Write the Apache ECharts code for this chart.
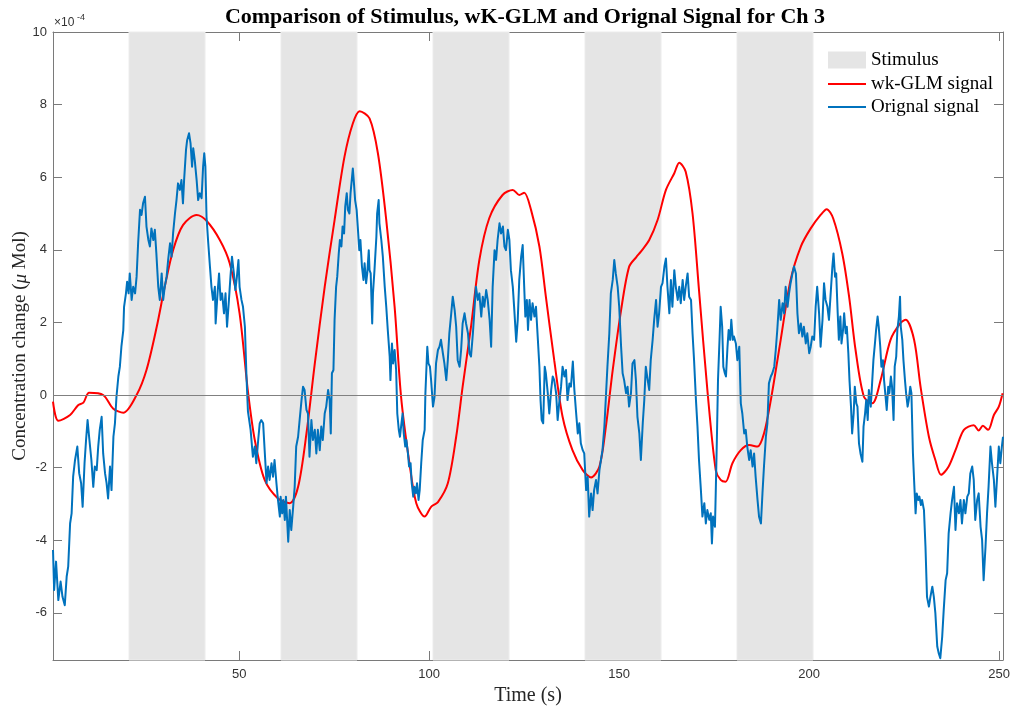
<!DOCTYPE html>
<html>
<head>
<meta charset="utf-8">
<title>Comparison of Stimulus, wK-GLM and Orignal Signal for Ch 3</title>
<script src="https://cdn.jsdelivr.net/npm/echarts@6/dist/echarts.min.js"></script>
<style>
  html, body { margin: 0; padding: 0; background: #ffffff; }
  #chart { width: 1014px; height: 709px; }
</style>
</head>
<body>
<div id="chart"></div>
<script>
// Concentration values are stored in units of 1e-4 µMol (see the ×10^-4 axis note).

// Stimulus blocks (s)
const stimOn  = [21, 61, 101, 141, 181];
const stimOff = [41, 81, 121, 161, 201];

// Axis ticks
const xTicks = [50, 100, 150, 200, 250];
const yTicks = [-6, -4, -2, 0, 2, 4, 6, 8, 10];

// wk-GLM model signal
const glmT = [1, 2.4, 5.5, 7.6, 9, 10.5, 14.2, 16.8, 19.5, 23, 25.6, 28.3, 30.4, 32.6, 35.2, 38.8, 41.4, 44.9, 47.5, 50.1,
  52.3, 54.1, 56.7, 60.2, 63.3, 65.5, 67.7, 69.9, 72.5, 75.1, 77.7, 79.9, 81.7, 84.3, 86.5, 88.7, 90.9, 92.6, 94.8, 96.6,
  98.8, 100.5, 102.3, 104.9, 107.1, 108.8, 111, 113.2, 115.8, 119.3, 122, 123.7, 125, 126.8, 129, 130.7, 132.9, 135.1, 137.7, 140.4,
  142.6, 144.8, 146.5, 148.3, 150.5, 152.6, 154.5, 155.7, 157.9, 160.1, 162.3, 164.5, 165.8, 167.5, 169.3, 171, 173.2, 175.4, 176.7, 178,
  179.8, 182, 184.2, 186.4, 188.1, 189.9, 192.5, 195.1, 197.8, 200.4, 203, 204.6, 206.3, 208.7, 210.5, 212.2, 214.4, 216.6, 218.8, 221.4,
  224, 225.4, 227.6, 229.3, 231.5, 233.2, 234.7, 236.7, 238.5, 240.7, 243.3, 244.6, 245.7, 247.1, 248.6, 249.9, 250.9];
const glmV = [-0.18, -0.71, -0.55, -0.28, -0.21, 0.06, 0.0, -0.37, -0.49, 0, 0.69, 1.88, 2.98, 3.99, 4.68, 4.96, 4.80, 4.27, 3.63, 2.25,
  0.1, -1.24, -2.34, -2.85, -2.98, -2.53, -1.06, 0.87, 2.98, 4.82, 6.56, 7.48, 7.82, 7.62, 6.66, 4.82, 2.43, -0.05, -1.88, -2.98,
  -3.35, -3.08, -2.95, -2.43, -1.15, 0.23, 1.88, 3.72, 4.87, 5.51, 5.65, 5.51, 5.57, 5.10, 4.09, 2.71, 0.96, -0.60, -1.52, -2.07,
  -2.27, -1.97, -0.87, 0.69, 2.34, 3.53, 3.8, 3.95, 4.27, 4.82, 5.65, 6.11, 6.40, 6.15, 5.00, 2.89, 0.14, -2.07, -2.34, -2.39,
  -1.88, -1.52, -1.38, -1.42, -1.06, -0.14, 1.52, 3.17, 4.09, 4.59, 4.96, 5.12, 4.87, 3.90, 2.71, 1.24, -0.05, -0.23, 0.41, 1.52,
  1.98, 2.07, 1.52, 0.23, -1.15, -1.79, -2.20, -1.97, -1.52, -0.96, -0.83, -0.98, -0.85, -0.96, -0.55, -0.32, 0.05];

// Original measured signal
const origT = [1.0, 1.3, 1.8, 2.4, 3.0, 3.5, 4.1, 4.6, 5.0, 5.5, 5.9, 6.3, 6.8, 7.4, 7.9, 8.4, 8.8, 9.3, 9.7, 10.1,
  10.5, 11.1, 11.6, 12.0, 12.5, 12.9, 13.3, 13.8, 14.2, 14.7, 15.1, 15.5, 16.0, 16.4, 16.9, 17.3, 17.7, 18.2, 18.6, 19.0,
  19.5, 19.7, 20.2, 20.5, 20.9, 21.2, 21.7, 22.1, 22.6, 23.0, 23.4, 23.9, 24.3, 24.7, 25.2, 25.6, 26.1, 26.5, 26.9, 27.4,
  27.8, 28.2, 28.7, 29.1, 29.6, 30.0, 30.4, 30.9, 31.3, 31.8, 32.2, 32.6, 33.1, 33.5, 33.9, 34.4, 34.8, 35.2, 35.5, 36.0,
  36.3, 36.8, 37.2, 37.6, 37.9, 38.3, 38.8, 39.2, 39.6, 40.1, 40.5, 40.8, 41.1, 41.4, 41.8, 42.3, 42.7, 43.1, 43.6, 43.8,
  44.3, 44.7, 45.1, 45.5, 46.0, 46.4, 46.8, 47.3, 47.7, 48.1, 48.6, 49.0, 49.4, 49.8, 50.1, 50.6, 51.0, 51.5, 51.9, 52.3,
  53.0, 53.6, 54.1, 54.5, 55.0, 55.4, 55.8, 56.3, 56.7, 57.2, 57.6, 58.0, 58.5, 58.9, 59.3, 59.8, 60.2, 60.7, 60.9, 61.3,
  61.6, 62.0, 62.3, 62.9, 63.3, 63.7, 64.2, 64.6, 65.0, 65.5, 65.9, 66.4, 66.8, 67.2, 67.7, 68.1, 68.5, 69.0, 69.4, 69.9,
  70.3, 70.7, 71.2, 71.6, 72.0, 72.5, 72.9, 73.4, 73.8, 74.1, 74.4, 74.8, 75.1, 75.5, 75.8, 76.2, 76.5, 76.9, 77.2, 77.6,
  77.9, 78.3, 78.6, 79.0, 79.3, 79.7, 79.9, 80.2, 80.5, 80.9, 81.2, 81.6, 81.9, 82.3, 82.7, 83.0, 83.4, 83.7, 84.1, 84.3,
  84.6, 85.0, 85.2, 85.6, 86.1, 86.3, 86.7, 86.9, 87.4, 87.8, 88.3, 88.7, 89.1, 89.6, 89.8, 90.2, 90.5, 90.9, 91.3, 91.6,
  92.0, 92.3, 92.6, 93.0, 93.3, 93.7, 94.0, 94.4, 94.7, 95.1, 95.4, 95.8, 96.1, 96.5, 96.8, 97.2, 97.5, 97.9, 98.3, 98.8,
  99.0, 99.5, 99.8, 100.2, 100.5, 101.0, 101.4, 101.8, 102.3, 102.7, 103.1, 103.6, 104.0, 104.5, 104.9, 105.3, 105.8, 106.2, 106.7, 107.1,
  107.5, 108.0, 108.4, 108.8, 109.3, 109.7, 110.2, 110.6, 111.0, 111.5, 111.9, 112.3, 112.8, 113.2, 113.7, 114.1, 114.5, 115.0, 115.4, 115.9,
  116.3, 116.7, 117.2, 117.6, 118.0, 118.5, 118.9, 119.4, 119.8, 120.2, 120.7, 121.1, 121.5, 122.0, 122.4, 122.9, 123.3, 123.7, 124.2, 124.6,
  125.0, 125.3, 125.7, 126.0, 126.4, 126.8, 127.2, 127.7, 128.1, 128.6, 129.0, 129.3, 129.6, 130.0, 130.4, 130.7, 131.2, 131.6, 132.1, 132.5,
  132.9, 133.4, 133.8, 134.2, 134.7, 135.1, 135.6, 136.0, 136.4, 136.9, 137.3, 137.8, 138.2, 138.6, 139.1, 139.5, 139.9, 140.4, 140.8, 141.3,
  141.7, 142.1, 142.6, 143.0, 143.4, 143.9, 144.3, 144.8, 145.2, 145.6, 146.1, 146.5, 146.9, 147.4, 147.8, 148.3, 148.7, 149.1, 149.6, 150.0,
  150.5, 150.9, 151.3, 151.8, 152.2, 152.6, 153.1, 153.5, 154.0, 154.4, 154.8, 155.3, 155.7, 156.2, 156.6, 157.0, 157.5, 157.9, 158.3, 158.8,
  159.2, 159.7, 160.1, 160.5, 161.0, 161.4, 161.9, 162.3, 162.7, 163.2, 163.6, 164.0, 164.5, 164.9, 165.4, 165.8, 166.2, 166.7, 167.1, 167.5,
  168.0, 168.4, 168.9, 169.3, 169.7, 170.2, 170.6, 171.0, 171.5, 171.9, 172.4, 172.8, 173.2, 173.7, 174.1, 174.4, 174.7, 175.2, 175.4, 175.7,
  176.0, 176.4, 176.7, 177.1, 177.4, 177.8, 178.1, 178.5, 178.8, 179.2, 179.5, 179.9, 180.2, 180.7, 181.1, 181.6, 182.0, 182.4, 182.9, 183.3,
  183.7, 184.2, 184.6, 185.1, 185.5, 185.9, 186.4, 186.8, 187.3, 187.7, 188.1, 188.6, 189.0, 189.4, 189.9, 190.3, 190.8, 191.2, 191.6, 192.1,
  192.5, 193.0, 193.4, 193.8, 194.3, 194.7, 195.1, 195.6, 196.0, 196.5, 196.9, 197.3, 197.8, 198.2, 198.6, 199.1, 199.5, 200.0, 200.4, 200.8,
  201.3, 201.7, 202.1, 202.6, 203.0, 203.5, 203.9, 204.3, 204.8, 205.2, 205.6, 206.1, 206.4, 206.8, 207.1, 207.5, 207.8, 208.2, 208.5, 208.9,
  209.2, 209.6, 209.9, 210.3, 210.6, 211.0, 211.3, 211.7, 212.0, 212.4, 212.7, 213.1, 213.5, 214.0, 214.3, 214.7, 215.0, 215.4, 215.7, 216.2,
  216.6, 216.9, 217.3, 217.6, 218.0, 218.3, 218.7, 219.0, 219.4, 219.7, 220.1, 220.4, 220.8, 221.1, 221.5, 221.8, 222.2, 222.5, 222.9, 223.2,
  223.6, 223.9, 224.1, 224.5, 224.8, 225.2, 225.5, 225.9, 226.2, 226.6, 226.9, 227.3, 227.6, 228.0, 228.3, 228.7, 229.0, 229.4, 229.7, 230.2,
  230.6, 231.0, 231.5, 231.9, 232.4, 232.8, 233.2, 233.7, 234.1, 234.5, 235.0, 235.4, 235.9, 236.3, 236.7, 237.2, 237.6, 238.1, 238.5, 238.9,
  239.4, 239.8, 240.2, 240.7, 241.1, 241.6, 242.0, 242.4, 242.9, 243.3, 243.7, 244.2, 244.6, 245.1, 245.5, 245.9, 246.4, 246.8, 247.2, 247.7,
  248.1, 248.6, 249.0, 249.4, 249.9, 250.3, 250.7, 251.0];
const origV = [-4.27, -5.37, -4.59, -5.65, -5.14, -5.56, -5.79, -5.0, -4.73, -3.54, -3.26, -2.25, -1.79, -1.42, -2.16, -2.43, -3.08, -1.88, -1.24, -0.69,
  -1.15, -1.79, -2.53, -1.97, -2.07, -1.42, -0.96, -0.60, -1.61, -2.16, -2.43, -2.85, -1.97, -2.62, -1.15, -0.78, -0.05, 0.51, 0.78, 1.33,
  1.79, 2.43, 2.80, 3.12, 2.80, 3.35, 2.62, 2.98, 2.80, 3.26, 4.18, 5.10, 4.96, 5.28, 5.46, 4.64, 4.27, 4.09, 4.59, 4.27,
  4.55, 3.90, 2.98, 2.62, 3.35, 2.62, 2.98, 3.26, 3.72, 4.18, 3.81, 4.45, 5.00, 5.37, 5.83, 5.65, 5.92, 5.28, 5.92, 6.75,
  7.02, 7.21, 6.93, 6.29, 6.80, 6.47, 5.92, 5.37, 5.56, 5.42, 6.29, 6.66, 6.29, 4.91, 4.27, 3.54, 2.98, 2.62, 2.98, 1.97,
  2.80, 3.35, 2.62, 2.80, 2.25, 2.80, 1.88, 2.62, 3.26, 3.81, 3.35, 2.89, 3.26, 3.72, 2.98, 2.62, 2.43, 1.88, 0.55, -0.45,
  -0.96, -1.70, -1.42, -1.88, -1.24, -0.78, -0.69, -0.78, -1.52, -2.43, -1.97, -2.34, -1.88, -2.25, -1.79, -2.43, -2.89, -3.35, -2.80, -3.26,
  -2.89, -3.44, -2.80, -4.04, -3.17, -3.72, -3.08, -2.53, -1.42, -1.15, -0.69, -0.14, 0.23, 0.14, -0.41, -0.51, -1.70, -0.69, -1.24, -0.96,
  -1.61, -0.96, -1.52, -0.87, -1.24, -0.51, -0.32, 0.14, -0.14, -1.06, 0.60, 0.69, 2.07, 2.98, 3.26, 3.90, 4.27, 4.09, 4.64, 4.45,
  5.19, 5.56, 5.10, 5.00, 5.56, 6.01, 6.24, 5.83, 5.37, 5.10, 4.64, 3.99, 4.27, 3.54, 3.17, 3.63, 3.08, 3.35, 3.99, 3.44,
  3.35, 1.97, 2.80, 3.44, 4.36, 5.00, 5.37, 4.73, 4.27, 3.81, 2.98, 2.43, 1.79, 1.06, 0.41, 1.42, 0.87, 1.24, 0.69, -0.51,
  -0.96, -1.15, -0.87, -0.51, -1.06, -1.42, -1.24, -1.61, -1.97, -1.88, -2.43, -2.80, -2.53, -2.71, -2.43, -2.89, -2.62, -1.88, -1.24, -0.96,
  0.05, 1.33, 0.87, 0.78, 0.41, -0.32, -0.05, 0.87, 1.24, 1.33, 1.52, 1.15, 0.87, 0.41, 0.96, 1.70, 2.25, 2.71, 2.34, 1.88,
  0.96, 0.78, 1.24, 1.97, 2.25, 1.97, 1.70, 1.15, 1.06, 1.70, 2.34, 2.98, 2.62, 2.80, 2.16, 2.71, 2.43, 2.89, 2.62, 2.07,
  1.33, 2.98, 3.99, 3.72, 4.27, 4.73, 4.45, 4.64, 4.09, 3.99, 4.55, 4.27, 3.44, 2.98, 2.34, 1.47, 2.07, 3.17, 3.81, 4.13,
  2.98, 2.16, 2.62, 1.79, 2.62, 2.07, 2.53, 2.16, 2.43, 1.52, 0.78, -0.14, -0.69, -0.78, 0.78, 0.60, 0.05, -0.51, 0.14, 0.51,
  0.41, 0.05, -0.69, -0.23, 0.23, 0.78, 0.51, 0.69, -0.14, 0.32, 0.23, 0.92, 0.14, -0.41, -1.06, -0.78, -1.33, -1.52, -1.61, -2.62,
  -2.25, -3.35, -2.71, -3.17, -2.62, -2.34, -2.71, -2.07, -1.79, -1.52, -0.87, -0.05, 0.78, 1.70, 2.80, 3.17, 3.72, 3.35, 2.98, 2.43,
  1.33, 0.60, 0.41, 0.05, 0.23, -0.32, 0.05, 0.87, 0.96, 0.41, -0.60, -1.06, -1.79, -0.78, -0.14, 0.78, 0.41, 0.14, 0.96, 1.52,
  2.07, 2.62, 1.88, 2.25, 2.98, 3.08, 3.54, 3.76, 2.98, 2.25, 3.17, 2.43, 3.44, 2.98, 2.62, 2.98, 2.53, 3.17, 2.62, 2.98,
  3.35, 2.71, 2.62, 1.70, 0.96, -0.14, -0.87, -1.79, -2.62, -3.35, -2.98, -3.54, -3.17, -3.44, -3.26, -4.09, -3.35, -3.63, -2.71, -1.24,
  0.41, 1.52, 2.43, 1.88, 0.78, 0.60, 0.51, 1.33, 1.79, 1.52, 2.07, 1.52, 1.61, 1.42, 0.96, 1.33, -0.23, -0.51, -1.06, -0.96,
  -1.42, -1.79, -1.52, -1.97, -1.61, -2.25, -2.89, -3.35, -3.54, -2.71, -1.97, -1.15, -0.78, 0.32, 0.51, 0.60, 0.78, 1.24, 1.79, 2.62,
  2.07, 2.53, 2.25, 2.98, 2.43, 2.80, 3.08, 3.35, 3.54, 3.35, 2.25, 1.70, 1.97, 1.61, 1.88, 1.42, 1.70, 1.15, 1.33, 1.61,
  1.52, 2.43, 2.98, 2.25, 1.33, 2.07, 3.08, 2.62, 2.43, 2.07, 2.71, 3.54, 3.90, 3.26, 3.35, 2.25, 1.52, 2.16, 1.42, 1.79,
  2.25, 1.70, 1.88, 1.15, 0.41, -0.32, -1.06, -0.51, 0.23, -0.23, -0.32, -1.33, -1.61, -1.84, -0.87, -0.51, -0.14, -0.69, 0.14, -0.32,
  0.41, 0.96, 1.42, 1.79, 2.16, 1.88, 1.33, 0.78, 0.96, 0.41, -0.05, -0.41, 0.23, 0.05, 0.51, 0.23, -0.69, 0.78, 1.06, 1.79,
  2.16, 2.71, 1.88, 1.52, 0.96, 0.41, 0.05, -0.32, -0.14, 0.23, 0.05, -1.61, -2.34, -3.26, -2.71, -2.89, -2.80, -3.03, -2.89, -3.17,
  -4.18, -5.56, -5.83, -5.56, -5.28, -5.56, -6.01, -6.93, -7.12, -7.25, -6.66, -5.92, -5.10, -4.91, -3.81, -3.26, -2.89, -2.53, -3.72, -2.98,
  -3.26, -2.89, -3.54, -2.89, -3.26, -2.80, -2.71, -2.16, -1.97, -2.34, -3.44, -2.89, -2.71, -3.63, -3.99, -5.10, -4.18, -3.26, -2.53, -1.42,
  -1.88, -2.34, -3.08, -2.34, -1.42, -1.88, -1.42, -1.15];

const X_MIN = 1, X_MAX = 251, Y_MIN = -7.3, Y_MAX = 10;

const zip = (t, v) => t.map((x, i) => [x, v[i]]);

const axisGrey = '#7a7a7a';
const labelGrey = '#333333';
const serif = '"Liberation Serif", "DejaVu Serif", serif';
const sans = '"Liberation Sans", Arial, sans-serif';

const chart = echarts.init(document.getElementById('chart'), null, { renderer: 'canvas' });

const boxAxisCommon = {
  type: 'value',
  axisLine: { show: true, onZero: false, lineStyle: { color: axisGrey, width: 1 } },
  splitLine: { show: false }
};

chart.setOption({
  animation: false,
  backgroundColor: '#ffffff',
  title: {
    text: 'Comparison of Stimulus, wK-GLM and Orignal Signal for Ch 3',
    left: 520,
    top: 1,
    textAlign: 'center',
    textStyle: { fontFamily: serif, fontWeight: 'bold', fontSize: 22, color: '#000000' }
  },
  grid: { left: 53, right: 11, top: 32, bottom: 49, containLabel: false, outerBoundsMode: 'none' },
  legend: [
    {
      data: ['Stimulus'],
      left: 823, top: 44,
      icon: 'rect', itemWidth: 38, itemHeight: 17, itemGap: 0,
      selectedMode: false,
      textStyle: { fontFamily: serif, fontSize: 19, color: '#000000', lineHeight: 22 }
    },
    {
      data: ['wk-GLM signal', 'Orignal signal'],
      left: 823, top: 68, orient: 'vertical',
      icon: 'rect', itemWidth: 38, itemHeight: 2, itemGap: 1,
      selectedMode: false,
      textStyle: { fontFamily: serif, fontSize: 19, color: '#000000', lineHeight: 22 }
    }
  ],
  xAxis: [
    Object.assign({}, boxAxisCommon, {
      position: 'bottom', min: X_MIN, max: X_MAX,
      name: 'Time (s)', nameLocation: 'middle', nameGap: 22,
      nameTextStyle: { fontFamily: serif, fontSize: 20, color: '#262626' },
      axisTick: { show: true, inside: true, length: 9, customValues: xTicks, lineStyle: { color: axisGrey } },
      axisLabel: { show: true, customValues: xTicks, margin: 8, fontFamily: sans, fontSize: 13, color: labelGrey }
    }),
    Object.assign({}, boxAxisCommon, {
      position: 'top', min: X_MIN, max: X_MAX,
      axisTick: { show: true, inside: true, length: 9, customValues: xTicks, lineStyle: { color: axisGrey } },
      axisLabel: { show: false }
    })
  ],
  yAxis: [
    Object.assign({}, boxAxisCommon, {
      position: 'left', min: Y_MIN, max: Y_MAX,
      name: 'Concentration change ({it|μ} Mol)', nameLocation: 'middle', nameGap: 23,
      nameMoveOverlap: false,
      nameTextStyle: {
        fontFamily: serif, fontSize: 19, color: '#262626',
        rich: { it: { fontFamily: serif, fontSize: 19, fontStyle: 'italic', color: '#262626' } }
      },
      axisTick: { show: true, inside: true, length: 9, customValues: yTicks, lineStyle: { color: axisGrey } },
      axisLabel: { show: true, customValues: yTicks, margin: 6, fontFamily: sans, fontSize: 13, color: labelGrey }
    }),
    Object.assign({}, boxAxisCommon, {
      position: 'right', min: Y_MIN, max: Y_MAX,
      axisTick: { show: true, inside: true, length: 9, customValues: yTicks, lineStyle: { color: axisGrey } },
      axisLabel: { show: false }
    })
  ],
  graphic: [
    {
      type: 'text', left: 54, top: 17, silent: true,
      style: { text: '×10', fontFamily: sans, fontSize: 12, fill: labelGrey }
    },
    {
      type: 'text', left: 77, top: 13, silent: true,
      style: { text: '-4', fontFamily: sans, fontSize: 9, fill: labelGrey }
    }
  ],
  series: [
    {
      name: 'Stimulus',
      type: 'line',
      data: [],
      silent: true,
      itemStyle: { color: '#e5e5e5' },
      lineStyle: { color: '#e5e5e5' },
      markArea: {
        silent: true,
        itemStyle: { color: '#e5e5e5', borderColor: '#ececec', borderWidth: 1 },
        data: stimOn.map((s, i) => [{ xAxis: s }, { xAxis: stimOff[i] }])
      },
      markLine: {
        silent: true,
        symbol: 'none',
        label: { show: false },
        lineStyle: { color: '#808080', width: 1.2, type: 'solid' },
        data: [{ yAxis: 0 }]
      },
      z: 1
    },
    {
      name: 'wk-GLM signal',
      type: 'line',
      data: zip(glmT, glmV),
      showSymbol: false,
      symbol: 'none',
      smooth: 0.3,
      itemStyle: { color: '#ff0000' },
      lineStyle: { color: '#ff0000', width: 2 },
      z: 3
    },
    {
      name: 'Orignal signal',
      type: 'line',
      data: zip(origT, origV),
      showSymbol: false,
      symbol: 'none',
      sampling: null,
      itemStyle: { color: '#0072bd' },
      lineStyle: { color: '#0072bd', width: 2, join: 'round' },
      z: 4
    }
  ]
});
</script>
</body>
</html>
